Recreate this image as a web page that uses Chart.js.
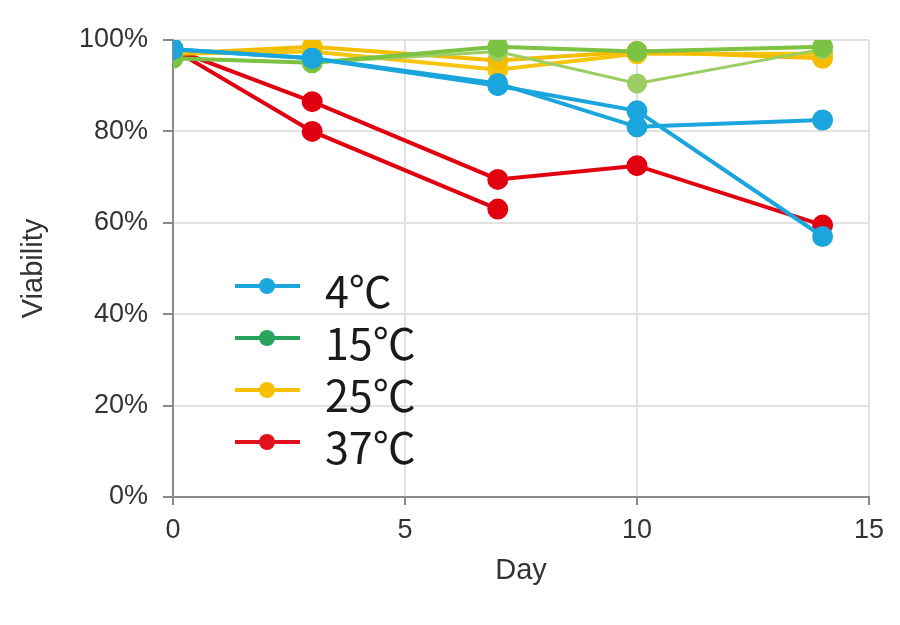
<!DOCTYPE html>
<html>
<head>
<meta charset="utf-8">
<script src="https://cdn.jsdelivr.net/npm/chart.js@4"></script>
<style>
  body { margin: 0; background: #fff; }
  #wrap { position: relative; width: 900px; height: 625px; }
  #legend { position: absolute; left: 235px; top: 262px; }
  .item { position: relative; height: 52px; width: 260px; }
  .item .ln { position: absolute; left: 0; top: 22px; width: 65px; height: 4px; }
  .item .dot { position: absolute; left: 24px; top: 16px; width: 16px; height: 16px; border-radius: 50%; }
  .item .txt { position: absolute; left: 90px; top: -3px; font: 43px "Noto Sans CJK JP", sans-serif; color: #1a1a1a; line-height: 60px; }
</style>
</head>
<body>
<div id="wrap">
  <canvas id="viab" width="900" height="625"></canvas>
  <div id="legend"></div>
</div>
<script>
var days = [0, 3, 7, 10, 14];
var labels = ["4℃", "15℃", "25℃", "37℃"];
var legendColors = ["#1ba7dd", "#2aa35c", "#f6c000", "#e2101e"];

var c4a = [98, 96, 90, 84.5, 57];
var c4b = [98, 96, 90.5, 81, 82.5];
var c15a = [96, 95, 98.5, 97.5, 98.5];
var c15b = [96, 95, 97.5, 90.5, 98];
var c25a = [97, 98.5, 95.5, 97.5, 96];
var c25b = [97, 97.5, 93.5, 97, 97];
var c37a = [98, 86.5, 69.5, 72.5, 59.5];
var c37b = [98, 80, 63, null, null];

function pts(vals) {
    var out = [];
    for (var i = 0; i < days.length; i++) {
        if (vals[i] !== null) out.push({ x: days[i], y: vals[i] });
    }
    return out;
}

function ds(vals, color, w) {
    return {
        data: pts(vals),
        borderColor: color,
        backgroundColor: color,
        borderWidth: w,
        pointRadius: 8.5,
        pointHoverRadius: 8.5,
        fill: false
    };
}

function buildLegend() {
    var lg = document.getElementById('legend');
    for (var i = 0; i < labels.length; i++) {
        var row = document.createElement('div');
        row.className = 'item';
        row.innerHTML = '<div class="ln" style="background:' + legendColors[i] + '"></div>' +
            '<div class="dot" style="background:' + legendColors[i] + '"></div>' +
            '<div class="txt">' + labels[i] + '</div>';
        lg.appendChild(row);
    }
}

function buildChart() {
    var ctx = document.getElementById('viab');
    new Chart(ctx, {
        type: 'line',
        data: {
            datasets: [
                ds(c4a, "#1aa6dc", 4),
                ds(c4b, "#1aa6dc", 4),
                ds(c15a, "#7cc243", 4),
                ds(c15b, "#9bcd62", 3),
                ds(c25a, "#f5bd00", 4),
                ds(c25b, "#f6c510", 4),
                ds(c37a, "#e0000f", 4),
                ds(c37b, "#e0000f", 4)
            ]
        },
        options: {
            responsive: false,
            animation: false,
            layout: { padding: { top: 40, right: 31, left: 0, bottom: 0 } },
            plugins: {
                legend: { display: false },
                tooltip: { enabled: false }
            },
            scales: {
                x: {
                    type: 'linear',
                    min: 0,
                    max: 15,
                    ticks: { stepSize: 5, color: '#333', padding: 9, font: { family: 'Liberation Sans', size: 27 } },
                    grid: { color: '#e2e2e2', lineWidth: 2, tickColor: '#888', tickLength: 8 },
                    border: { color: '#8a8a8a', width: 2 },
                    title: { display: true, text: 'Day', color: '#333', font: { family: 'Liberation Sans', size: 29 }, padding: { top: 0, bottom: 37 } },
                    afterFit: function (s) { s.height = 128; }
                },
                y: {
                    min: 0,
                    max: 100,
                    ticks: { stepSize: 20, color: '#333', padding: 15, font: { family: 'Liberation Sans', size: 27 },
                        callback: function (v) { return v + '%'; } },
                    grid: { color: '#e2e2e2', lineWidth: 2, tickColor: '#888', tickLength: 10 },
                    border: { color: '#8a8a8a', width: 2 },
                    title: { display: true, text: 'Viability', color: '#333', font: { family: 'Liberation Sans', size: 29 }, padding: { top: 17, bottom: 0 } },
                    afterFit: function (s) { s.width = 173; }
                }
            }
        }
    });
}

buildLegend();
buildChart();
</script>
</body>
</html>
